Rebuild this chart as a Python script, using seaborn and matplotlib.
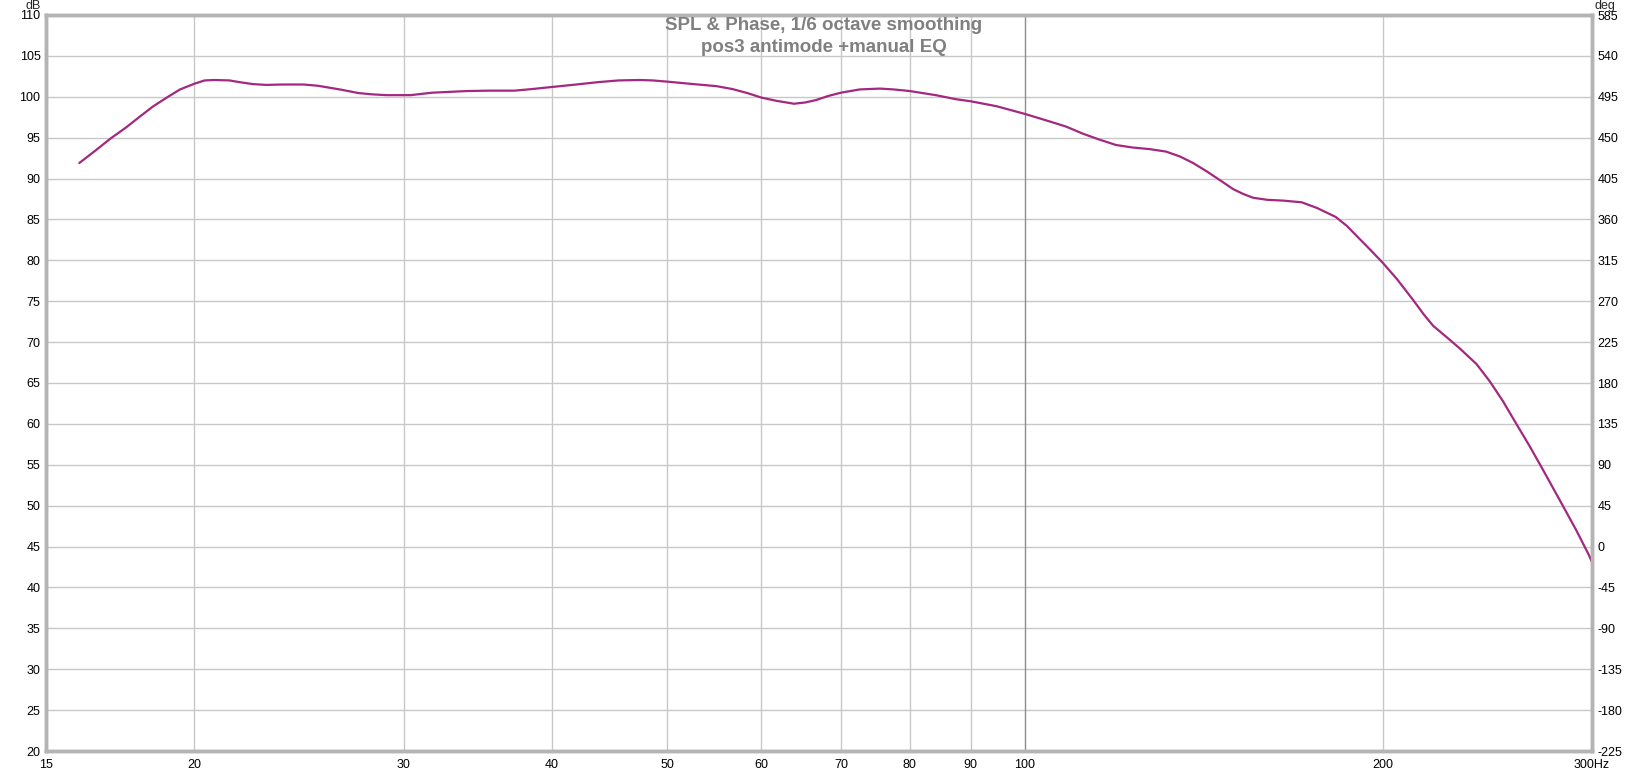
import matplotlib
matplotlib.use("Agg")
import matplotlib.pyplot as plt
import seaborn as sns
import numpy as np
import pandas as pd

# ---- data ----
freq_hz = [16.0, 16.5, 17.0, 17.5, 18.0, 18.45, 19.0, 19.45, 20.0, 20.4, 20.8, 21.4,
           21.8, 22.4, 23.0, 23.7, 24.7, 25.4, 26.5, 27.5, 28.2, 29.0, 30.4, 31.7,
           33.9, 35.4, 37.2, 38.5, 40.0, 41.9, 43.8, 45.5, 47.4, 48.6, 50.0, 52.6,
           55.0, 56.7, 58.4, 60.0, 61.8, 63.9, 65.3, 66.7, 68.3, 70.0, 72.6, 75.5,
           77.5, 80.0, 84.1, 87.5, 90.0, 94.6, 100.0, 104.8, 108.3, 111.8, 115.3,
           119.3, 123.1, 127.3, 131.4, 135.0, 138.5, 142.3, 145.9, 149.7, 152.7,
           155.6, 159.9, 165.0, 170.9, 176.1, 182.6, 186.6, 190.1, 195.2, 200.0,
           205.6, 212.0, 216.5, 220.5, 226.8, 232.3, 239.9, 246.1, 252.4, 258.6,
           265.8, 272.3, 283.0, 291.0, 298.1, 300.0]
spl_db = [91.9, 93.4, 94.9, 96.2, 97.6, 98.8, 100.0, 100.9, 101.6, 102.0, 102.05, 102.0,
          101.8, 101.55, 101.45, 101.5, 101.5, 101.35, 100.9, 100.45, 100.3, 100.2, 100.2, 100.5,
          100.7, 100.75, 100.75, 100.95, 101.2, 101.5, 101.8, 102.0, 102.05, 102.0, 101.85, 101.55,
          101.3, 100.95, 100.45, 99.9, 99.5, 99.15, 99.3, 99.6, 100.1, 100.5, 100.9, 101.0,
          100.9, 100.7, 100.2, 99.7, 99.45, 98.85, 97.9, 97.0, 96.35, 95.5, 94.8,
          94.1, 93.8, 93.6, 93.3, 92.7, 91.9, 90.85, 89.8, 88.7, 88.1,
          87.65, 87.4, 87.3, 87.1, 86.4, 85.3, 84.2, 83.0, 81.3, 79.7,
          77.7, 75.2, 73.4, 72.0, 70.5, 69.2, 67.3, 65.2, 62.8, 60.2,
          57.3, 54.6, 50.2, 47.0, 44.0, 43.1]

x_ticks = [15, 20, 30, 40, 50, 60, 70, 80, 90, 100, 200, 300]
x_tick_labels = ["15", "20", "30", "40", "50", "60", "70", "80", "90", "100", "200", "300Hz"]
db_ticks = list(range(20, 111, 5))
deg_ticks = list(range(-225, 586, 45))
title_lines = ["SPL & Phase, 1/6 octave smoothing", "pos3 antimode +manual EQ"]

df = pd.DataFrame({"Frequency": freq_hz, "SPL": spl_db})

sns.set_theme(style="white")
plt.rcParams["font.family"] = ["Liberation Sans", "DejaVu Sans"]

W, H = 1649, 772
fig = plt.figure(figsize=(W / 100, H / 100), dpi=100)
L, R, T, B = 46, 1592, 15, 751
ax = fig.add_axes([L / W, 1 - B / H, (R - L) / W, (B - T) / H])

ax.set_xscale("log")
ax.set_xlim(15, 300)
ax.set_ylim(20, 110)

grid_c = "#C8C8C8"
for y in db_ticks[1:-1]:
    ax.axhline(y, color=grid_c, lw=1.0, zorder=0)
for x in x_ticks[1:-1]:
    ax.axvline(x, color="#8C8C8C" if x == 100 else grid_c, lw=1.0, zorder=0)

sns.lineplot(data=df, x="Frequency", y="SPL", ax=ax, color="#A3287F", lw=1.6, zorder=3)

ax.set_xticks(x_ticks)
ax.set_xticklabels(x_tick_labels)
ax.xaxis.set_minor_locator(matplotlib.ticker.NullLocator())
ax.set_yticks(db_ticks)
ax.set_yticklabels([str(v) for v in db_ticks])
ax.tick_params(axis="both", length=0, labelsize=9, colors="black")
ax.tick_params(axis="y", pad=4)
ax.tick_params(axis="x", pad=6)
ax.set_xlabel("")
ax.set_ylabel("")

ax2 = ax.twinx()
ax2.set_ylim(-225, 585)
ax2.set_yticks(deg_ticks)
ax2.set_yticklabels([str(v) for v in deg_ticks])
ax2.tick_params(axis="y", length=0, labelsize=9, pad=4, colors="black")

for a in (ax, ax2):
    for s in a.spines.values():
        s.set_color("#B4B4B4")
        s.set_linewidth(2.5)

fig.text(L / W - 0.003, 1 - 6 / H, "dB", ha="right", va="center", fontsize=9)
fig.text(R / W + 0.0015, 1 - 6 / H, "deg", ha="left", va="center", fontsize=9)

fig.text(0.4995, 1 - 25 / H, title_lines[0], ha="center", va="center",
         fontsize=13.5, fontweight="bold", color="#808080")
fig.text(0.4995, 1 - 47 / H, title_lines[1], ha="center", va="center",
         fontsize=13.5, fontweight="bold", color="#808080")

fig.savefig("out.png", dpi=100, facecolor="white")
